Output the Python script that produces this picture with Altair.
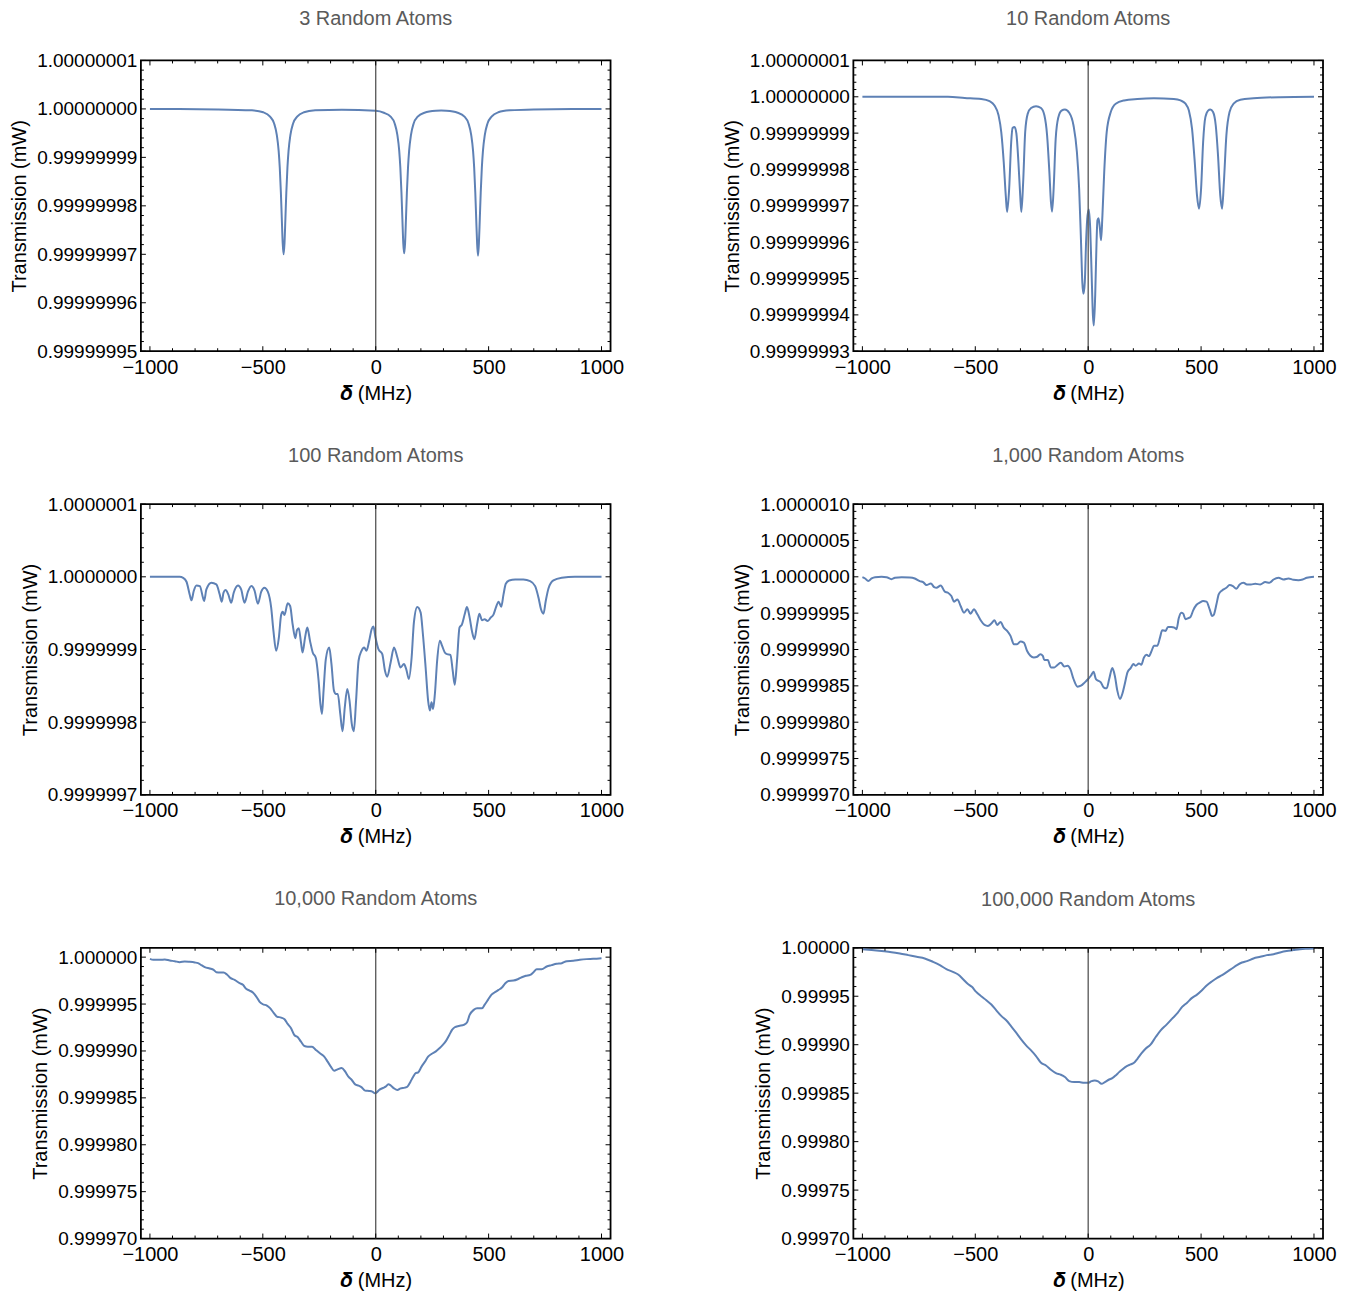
import altair as alt
import pandas as pd

# 공통 스타일
FONT = "Liberation Sans"
LINE_COLOR = "#5E81B5"
ZERO_COLOR = "#555555"
W, H = 470, 291
X_DOMAIN = [-1040, 1040]
X_TICKS = [-1000, -500, 0, 500, 1000]
X_MINOR = [-900, -800, -700, -600, -400, -300, -200, -100,
           100, 200, 300, 400, 600, 700, 800, 900]

# ---- 3 Random Atoms (deviation from 1 mW, in 1e-8 mW) ----
p1_x = [-1000, -700, -548, -498, -468, -450, -438, -430, -425, -420, -416, -412,
        -408, -404, -400, -396, -391, -386, -378, -366, -348, -318, -268, -150,
        0, 36, 66, 84, 96, 104, 109, 114, 118, 122, 126, 130, 134, 138, 143, 148,
        156, 168, 186, 216, 266, 290, 313, 363, 393, 411, 423, 431, 436, 441, 445,
        449, 453, 457, 461, 465, 470, 475, 483, 495, 513, 543, 593, 700, 1000]
p1_dev = [0, -0.01, -0.03, -0.07, -0.16, -0.30, -0.54, -0.86, -1.21, -1.73, -2.26, -2.77,
          -3.0, -2.77, -2.26, -1.73, -1.21, -0.86, -0.54, -0.30, -0.16, -0.07, -0.03, -0.015,
          -0.04, -0.08, -0.16, -0.30, -0.54, -0.86, -1.21, -1.73, -2.26, -2.77, -2.98, -2.77,
          -2.26, -1.73, -1.21, -0.86, -0.54, -0.30, -0.16, -0.08, -0.04, -0.035, -0.04, -0.08,
          -0.16, -0.30, -0.54, -0.86, -1.21, -1.73, -2.26, -2.77, -3.03, -2.77, -2.26, -1.73,
          -1.21, -0.86, -0.54, -0.30, -0.16, -0.07, -0.03, -0.01, 0]

# ---- 10 Random Atoms (1e-8 mW) ----
p2_x = [-1000, -621, -547, -474, -437, -415, -397, -385, -374, -365, -359, -350, -341,
        -335, -326, -318, -309, -301, -296, -288, -279, -268, -253, -231, -209, -194,
        -182, -172, -165, -160, -153, -144, -132, -118, -103, -84, -65, -50, -40, -32,
        -26, -21, -15, -9, -3, 3, 9, 15, 21, 25, 31, 37, 41, 46, 52, 57, 63, 71, 82,
        100, 122, 159, 218, 291, 379, 409, 431, 446, 460, 472, 482, 491, 500, 509, 519,
        531, 541, 553, 565, 575, 585, 593, 601, 612, 626, 644, 674, 732, 850, 1000]
p2_dev = [0, 0, -0.03, -0.06, -0.12, -0.24, -0.51, -0.97, -1.80, -2.72, -3.17, -2.53, -1.25,
          -0.86, -0.83, -1.01, -1.80, -2.72, -3.17, -2.35, -0.97, -0.47, -0.31, -0.26, -0.31,
          -0.51, -1.06, -2.06, -2.89, -3.16, -2.53, -1.16, -0.56, -0.38, -0.35, -0.44, -0.79,
          -1.52, -2.53, -3.94, -5.10, -5.42, -5.10, -3.94, -3.27, -3.10, -3.63, -4.83, -6.02,
          -6.29, -5.47, -4.00, -3.40, -3.34, -3.63, -3.95, -3.27, -2.07, -0.97, -0.42, -0.19,
          -0.10, -0.06, -0.04, -0.06, -0.10, -0.19, -0.38, -0.88, -1.80, -2.72, -3.08, -2.53,
          -1.25, -0.56, -0.38, -0.35, -0.42, -0.79, -1.61, -2.72, -3.08, -2.35, -1.06, -0.42,
          -0.19, -0.08, -0.04, -0.01, 0]

# ---- 100 Random Atoms (1e-7 mW) ----
p3_x = [-1000, -868, -853, -838, -824, -816, -806, -794, -779, -765, -760, -750, -728,
        -706, -691, -682, -674, -665, -653, -640, -629, -610, -596, -581, -566, -551,
        -537, -522, -507, -493, -478, -463, -453, -441, -429, -419, -412, -404, -390,
        -379, -368, -356, -349, -341, -331, -324, -313, -303, -291, -279, -265, -253,
        -245, -238, -231, -221, -206, -196, -185, -176, -168, -157, -147, -137, -126,
        -116, -106, -97, -87, -76, -63, -51, -41, -29, -18, -10, -1, 12, 29, 41, 51, 66,
        81, 96, 110, 125, 135, 147, 159, 169, 184, 199, 209, 221, 232, 240, 247, 254,
        262, 272, 284, 294, 306, 316, 331, 341, 350, 360, 371, 382, 394, 404, 416, 426,
        437, 449, 459, 471, 482, 496, 509, 522, 532, 544, 556, 566, 576, 591, 618, 654,
        684, 706, 721, 732, 743, 753, 765, 787, 824, 882, 1000]
p3_dev = [0, 0, -0.014, -0.068, -0.242, -0.324, -0.196, -0.119, -0.128, -0.288, -0.333,
          -0.174, -0.082, -0.105, -0.242, -0.342, -0.219, -0.183, -0.242, -0.356, -0.219,
          -0.119, -0.174, -0.356, -0.205, -0.128, -0.187, -0.370, -0.205, -0.151, -0.205,
          -0.425, -0.744, -1.018, -0.836, -0.525, -0.479, -0.525, -0.365, -0.402, -0.653,
          -0.845, -0.735, -0.708, -0.904, -1.041, -0.836, -0.699, -0.881, -1.041, -1.119,
          -1.429, -1.749, -1.886, -1.566, -1.132, -0.973, -1.201, -1.566, -1.612, -1.612,
          -1.886, -2.123, -1.795, -1.543, -1.703, -2.023, -2.123, -1.703, -1.155, -1.018,
          -0.973, -1.018, -0.881, -0.721, -0.685, -0.836, -0.995, -1.064, -1.292, -1.374,
          -1.178, -0.973, -1.110, -1.247, -1.201, -1.269, -1.406, -1.110, -0.630, -0.416,
          -0.493, -0.790, -1.247, -1.703, -1.840, -1.726, -1.817, -1.612, -1.155, -0.881,
          -0.950, -1.041, -1.064, -1.073, -1.292, -1.484, -1.155, -0.699, -0.653, -0.516,
          -0.416, -0.562, -0.744, -0.858, -0.653, -0.507, -0.598, -0.584, -0.607, -0.562,
          -0.516, -0.425, -0.342, -0.411, -0.242, -0.096, -0.050, -0.037, -0.037, -0.059,
          -0.128, -0.288, -0.447, -0.507, -0.333, -0.160, -0.050, -0.014, 0, 0]

# ---- 1,000 Random Atoms (1e-6 mW) ----
p4_x = [-1000, -988, -974, -959, -944, -915, -893, -871, -856, -826, -790, -768, -746,
        -731, -716, -697, -682, -672, -653, -635, -621, -606, -594, -579, -565, -550,
        -535, -521, -506, -491, -476, -459, -444, -429, -415, -403, -388, -374, -359,
        -344, -329, -315, -300, -285, -271, -256, -241, -226, -212, -201, -194, -179,
        -165, -150, -135, -121, -106, -91, -79, -65, -47, -32, -15, 0, 12, 24, 34, 44,
        56, 68, 82, 93, 107, 118, 129, 141, 151, 162, 174, 188, 200, 210, 225, 235, 247,
        259, 269, 281, 291, 306, 318, 328, 343, 353, 368, 382, 391, 401, 412, 421, 431,
        441, 453, 465, 479, 494, 509, 524, 538, 549, 556, 568, 578, 593, 612, 626, 641,
        656, 671, 688, 703, 721, 740, 762, 784, 803, 821, 843, 865, 887, 909, 931, 950,
        968, 1000]
p4_dev = [-0.005, -0.023, -0.059, -0.023, -0.005, 0, -0.005, -0.032, -0.014, -0.005,
          -0.009, -0.023, -0.059, -0.073, -0.114, -0.091, -0.142, -0.151, -0.119, -0.205,
          -0.219, -0.265, -0.342, -0.311, -0.402, -0.493, -0.447, -0.507, -0.447, -0.516,
          -0.598, -0.662, -0.676, -0.644, -0.598, -0.662, -0.621, -0.699, -0.744, -0.813,
          -0.927, -0.927, -0.890, -0.904, -1.018, -1.087, -1.110, -1.100, -1.064, -1.087,
          -1.146, -1.146, -1.247, -1.247, -1.210, -1.183, -1.233, -1.224, -1.269, -1.406,
          -1.511, -1.498, -1.452, -1.406, -1.361, -1.306, -1.406, -1.429, -1.452, -1.520,
          -1.534, -1.406, -1.256, -1.361, -1.566, -1.680, -1.612, -1.475, -1.315, -1.256,
          -1.201, -1.224, -1.192, -1.210, -1.110, -1.073, -1.091, -1.018, -0.950, -0.950,
          -0.836, -0.735, -0.744, -0.689, -0.689, -0.699, -0.721, -0.571, -0.493, -0.507,
          -0.584, -0.571, -0.553, -0.461, -0.388, -0.356, -0.333, -0.342, -0.447, -0.539,
          -0.525, -0.379, -0.242, -0.187, -0.151, -0.114, -0.128, -0.164, -0.105, -0.082,
          -0.105, -0.105, -0.096, -0.105, -0.073, -0.082, -0.037, -0.014, -0.037, -0.023,
          -0.041, -0.046, -0.037, -0.014, 0]

# ---- 10,000 Random Atoms (1e-6 mW) ----
p5_x = [-1000, -985, -956, -934, -912, -890, -868, -846, -824, -801, -787, -772, -757,
        -735, -718, -706, -688, -674, -659, -644, -625, -603, -588, -574, -559, -544,
        -529, -515, -500, -482, -468, -453, -438, -419, -404, -390, -375, -360, -346,
        -331, -316, -301, -282, -265, -247, -228, -213, -199, -184, -169, -151, -135,
        -121, -106, -91, -76, -62, -47, -29, -15, -3, 3, 15, 32, 44, 56, 66, 81, 96, 110,
        129, 140, 154, 166, 176, 188, 203, 218, 232, 247, 265, 282, 297, 312, 326, 338,
        350, 368, 390, 404, 416, 434, 449, 471, 482, 497, 512, 526, 544, 559, 574, 588,
        610, 629, 647, 665, 684, 699, 713, 735, 757, 779, 801, 824, 846, 875, 904, 934,
        963, 1000]
p5_dev = [-0.18, -0.28, -0.28, -0.25, -0.36, -0.43, -0.53, -0.46, -0.50, -0.57, -0.64,
          -0.85, -1.07, -1.21, -1.35, -1.60, -1.64, -1.64, -1.85, -2.21, -2.42, -2.78,
          -2.95, -3.38, -3.56, -3.77, -4.20, -4.73, -5.02, -5.16, -5.44, -5.91, -6.33,
          -6.44, -6.62, -7.12, -7.58, -8.33, -8.51, -9.01, -9.47, -9.54, -9.54, -9.89,
          -10.25, -10.60, -11.14, -11.67, -12.10, -11.96, -11.81, -12.21, -12.74, -13.10,
          -13.56, -13.70, -13.88, -14.23, -14.27, -14.34, -14.52, -14.45, -14.16, -13.95,
          -13.81, -13.56, -13.67, -13.99, -14.16, -13.99, -13.91, -13.81, -13.27, -12.74,
          -12.38, -12.28, -11.67, -11.14, -10.60, -10.32, -10.07, -9.72, -9.36, -8.90,
          -8.29, -7.76, -7.47, -7.33, -7.22, -6.97, -6.16, -5.62, -5.44, -5.44, -5.09,
          -4.56, -4.02, -3.77, -3.49, -3.24, -2.78, -2.53, -2.49, -2.35, -2.14, -1.99,
          -1.89, -1.60, -1.28, -1.28, -1.00, -0.85, -0.71, -0.64, -0.43, -0.39, -0.28,
          -0.21, -0.18, -0.11]

# ---- 100,000 Random Atoms (1e-5 mW) ----
p6_x = [-1000, -959, -915, -871, -834, -797, -760, -724, -687, -657, -628, -599, -576,
        -554, -535, -515, -496, -474, -451, -429, -407, -385, -363, -341, -319, -297,
        -275, -253, -231, -209, -187, -165, -143, -121, -103, -84, -62, -40, -18, 0, 12,
        29, 44, 59, 74, 93, 107, 122, 137, 151, 171, 188, 203, 218, 235, 254, 276, 299,
        321, 347, 372, 397, 416, 438, 460, 482, 504, 526, 549, 571, 593, 615, 637, 659,
        681, 703, 732, 762, 791, 821, 850, 879, 909, 938, 975, 1000]
p6_dev = [-0.14, -0.24, -0.34, -0.45, -0.59, -0.76, -0.93, -1.10, -1.45, -1.79, -2.21,
          -2.48, -2.76, -3.24, -3.69, -4.03, -4.55, -5.00, -5.41, -5.86, -6.45, -7.03,
          -7.48, -8.10, -8.76, -9.45, -10.07, -10.59, -11.17, -11.86, -12.14, -12.59,
          -12.93, -13.10, -13.34, -13.76, -13.86, -13.86, -13.93, -13.93, -13.79, -13.69,
          -13.79, -14.03, -13.86, -13.59, -13.45, -13.17, -12.83, -12.55, -12.21, -12.03,
          -11.86, -11.45, -10.93, -10.41, -10.00, -9.21, -8.52, -7.93, -7.31, -6.69,
          -6.10, -5.66, -5.17, -4.83, -4.38, -3.86, -3.45, -3.10, -2.83, -2.48, -2.14,
          -1.79, -1.52, -1.38, -1.10, -0.93, -0.76, -0.66, -0.48, -0.34, -0.24, -0.14,
          -0.10, -0.07]

# y축 범위 / 눈금
p1_ticks = [0.99999995, 0.99999996, 0.99999997, 0.99999998, 0.99999999, 1.0, 1.00000001]
p2_ticks = [0.99999993, 0.99999994, 0.99999995, 0.99999996, 0.99999997, 0.99999998,
            0.99999999, 1.0, 1.00000001]
p3_ticks = [0.9999997, 0.9999998, 0.9999999, 1.0, 1.0000001]
p4_ticks = [0.999997, 0.9999975, 0.999998, 0.9999985, 0.999999, 0.9999995, 1.0,
            1.0000005, 1.000001]
p5_ticks = [0.99997, 0.999975, 0.99998, 0.999985, 0.99999, 0.999995, 1.0]
p6_ticks = [0.9997, 0.99975, 0.9998, 0.99985, 0.9999, 0.99995, 1.0]


def minor_between(major):
    # 주 눈금 사이 보조 눈금 4개
    out = []
    for a, b in zip(major[:-1], major[1:]):
        out += [a + k * (b - a) / 5 for k in range(1, 5)]
    return out


def tick_rules(vals, channel, side, length, xenc, yenc_fn):
    # 프레임 안쪽으로 향하는 눈금 (Mathematica 스타일)
    base = alt.Chart(pd.DataFrame({"delta": vals, "T": vals})).mark_rule(
        color="black", strokeWidth=1)
    if channel == "x":
        y0 = H if side == "bottom" else 0
        y1 = H - length if side == "bottom" else length
        return base.encode(x=xenc, y=alt.value(y0), y2=alt.value(y1))
    x0 = 0 if side == "left" else W
    x1 = length if side == "left" else W - length
    return base.encode(y=yenc_fn(), x=alt.value(x0), x2=alt.value(x1))


def panel(title, xv, dev, unit, y_domain, y_ticks, y_fmt, title_offset=29):
    df = pd.DataFrame({"delta": xv, "T": [1 + d * unit for d in dev]})
    xs = alt.Scale(domain=X_DOMAIN, nice=False, zero=False)
    ys = alt.Scale(domain=y_domain, nice=False, zero=False)
    x_axis = alt.Axis(values=X_TICKS, format="d", title="𝜹 (MHz)")
    y_axis = alt.Axis(values=y_ticks, format=y_fmt, title="Transmission (mW)")
    xenc = alt.X("delta:Q", scale=xs, axis=x_axis)

    def yenc():
        return alt.Y("T:Q", scale=ys, axis=y_axis)

    line = alt.Chart(df).mark_line(
        color=LINE_COLOR, strokeWidth=2, interpolate="monotone", clip=True
    ).encode(x=xenc, y=yenc())
    zero = alt.Chart(pd.DataFrame({"delta": [0]})).mark_rule(
        color=ZERO_COLOR, strokeWidth=1.3
    ).encode(x=xenc)

    y_minor = minor_between(y_ticks)
    ticks = [
        tick_rules(X_TICKS, "x", "bottom", 5, xenc, yenc),
        tick_rules(X_MINOR, "x", "bottom", 3, xenc, yenc),
        tick_rules(X_TICKS, "x", "top", 5, xenc, yenc),
        tick_rules(X_MINOR, "x", "top", 3, xenc, yenc),
        tick_rules(y_ticks, "y", "left", 5, xenc, yenc),
        tick_rules(y_minor, "y", "left", 3, xenc, yenc),
        tick_rules(y_ticks, "y", "right", 5, xenc, yenc),
        tick_rules(y_minor, "y", "right", 3, xenc, yenc),
    ]
    return alt.layer(line, zero, *ticks).properties(
        width=W, height=H,
        title=alt.TitleParams(title, fontSize=20, color="#5a5a5a", font=FONT,
                              fontWeight="normal", offset=title_offset),
    )


panels = [
    # 첫 줄 제목은 페이지 위 여백 때문에 간격을 조금 줄임
    panel("3 Random Atoms", p1_x, p1_dev, 1e-8, [0.99999995, 1.00000001], p1_ticks, ".8f",
          title_offset=22),
    panel("10 Random Atoms", p2_x, p2_dev, 1e-8, [0.99999993, 1.00000001], p2_ticks, ".8f",
          title_offset=22),
    panel("100 Random Atoms", p3_x, p3_dev, 1e-7, [0.9999997, 1.0000001], p3_ticks, ".7f"),
    panel("1,000 Random Atoms", p4_x, p4_dev, 1e-6, [0.999997, 1.000001], p4_ticks, ".7f"),
    # 맨 위 눈금 라벨이 없으므로 제목 간격 보정
    panel("10,000 Random Atoms", p5_x, p5_dev, 1e-6, [0.99997, 1.000001], p5_ticks, ".6f",
          title_offset=38),
    panel("100,000 Random Atoms", p6_x, p6_dev, 1e-5, [0.9997, 1.0], p6_ticks, ".5f"),
]

chart = alt.concat(
    *panels, columns=2, bounds="flush", spacing={"row": 153, "column": 243}
).properties(padding=0).configure(font=FONT).configure_view(
    stroke="black", strokeWidth=1.8
).configure_axis(
    grid=False, domain=False, ticks=False, tickSize=0,
    labelFont=FONT, labelColor="black",
    labelFlush=False, labelOverlap=False,
    titleFont=FONT, titleFontSize=20, titleFontWeight="normal", titleColor="black",
).configure_axisX(labelFontSize=20, labelPadding=6, titlePadding=6).configure_axisY(
    labelFontSize=19, labelPadding=4, titlePadding=7
)

chart.save("out.html", embed_options={"renderer": "svg", "actions": False})
